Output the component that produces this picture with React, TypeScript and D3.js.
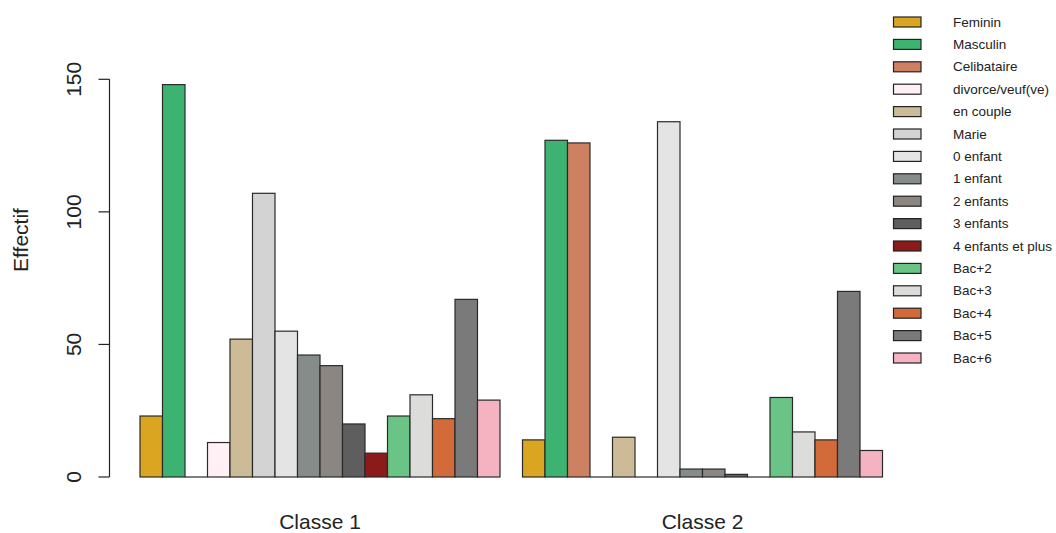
import React from "react";
import * as d3 from "d3";

const classes = ["Classe 1", "Classe 2"];
const categories = [
  "Feminin", "Masculin", "Celibataire", "divorce/veuf(ve)", "en couple", "Marie",
  "0 enfant", "1 enfant", "2 enfants", "3 enfants", "4 enfants et plus",
  "Bac+2", "Bac+3", "Bac+4", "Bac+5", "Bac+6",
];
const classe1 = [23, 148, 0, 13, 52, 107, 55, 46, 42, 20, 9, 23, 31, 22, 67, 29];
const classe2 = [14, 127, 126, 0, 15, 0, 134, 3, 3, 1, 0, 30, 17, 14, 70, 10];
const colors = [
  "#DAA520", "#3CB371", "#CD8162", "#FFF0F5", "#CDBA96", "#D3D3D3",
  "#E3E4E3", "#858C89", "#8B8682", "#5E5E5E", "#8B1A1A",
  "#6AC485", "#DCDCDA", "#D36A3A", "#7A7A7A", "#F5B3C1",
];
const yTicks = [0, 50, 100, 150];

const W = 1056;
const H = 533;
const FONT = "Arial, 'Liberation Sans', sans-serif";

export default function App() {
  const series = [classe1, classe2];
  const nCat = categories.length;
  const totalUnits = classes.length * (nCat + 1);
  const x = d3.scaleLinear().domain([0, totalUnits]).range([117.5, 882.5]);
  const y = d3.scaleLinear().domain([0, 150]).range([477, 79.3]);

  const bars: any[] = [];
  series.forEach((vals, g) => {
    vals.forEach((v, i) => {
      const u = g * (nCat + 1) + 1 + i;
      bars.push({ key: `${g}-${i}`, x0: x(u), x1: x(u + 1), v, color: colors[i] });
    });
  });

  const legendY = d3.scaleLinear().domain([0, nCat - 1]).range([22, 358]);

  return (
    <svg width={W} height={H} style={{ position: "absolute", left: 0, top: 0, background: "#fff" }}>
      <rect x={0} y={0} width={W} height={H} fill="#fff" />
      {bars.map((b) =>
        b.v > 0 ? (
          <rect
            key={b.key}
            x={b.x0}
            y={y(b.v)}
            width={b.x1 - b.x0}
            height={y(0) - y(b.v)}
            fill={b.color}
            stroke="#2a2a2a"
            strokeWidth={1.2}
          />
        ) : (
          <line key={b.key} x1={b.x0} x2={b.x1} y1={y(0)} y2={y(0)} stroke="#2a2a2a" strokeWidth={1.2} />
        )
      )}
      <line x1={109.5} x2={109.5} y1={y(0)} y2={y(150)} stroke="#222" strokeWidth={1.2} />
      {yTicks.map((t) => (
        <g key={t}>
          <line x1={98.5} x2={109.5} y1={y(t)} y2={y(t)} stroke="#222" strokeWidth={1.2} />
          <text
            transform={`translate(81,${y(t)}) rotate(-90)`}
            textAnchor="middle"
            fontFamily={FONT}
            fontSize={21}
            fill="#222"
          >
            {t}
          </text>
        </g>
      ))}
      <text
        transform={`translate(28,240) rotate(-90)`}
        textAnchor="middle"
        fontFamily={FONT}
        fontSize={21}
        fill="#222"
      >
        Effectif
      </text>
      {classes.map((c, g) => {
        const cx = x(g * (nCat + 1) + 1 + nCat / 2);
        return (
          <text key={c} x={cx} y={529} textAnchor="middle" fontFamily={FONT} fontSize={21} fill="#222">
            {c}
          </text>
        );
      })}
      {categories.map((c, i) => (
        <g key={c}>
          <rect x={893.5} y={legendY(i) - 5} width={27.5} height={10} fill={colors[i]} stroke="#222" strokeWidth={1.2} />
          <text x={953} y={legendY(i) + 4.5} fontFamily={FONT} fontSize={13.5} fill="#222">
            {c}
          </text>
        </g>
      ))}
    </svg>
  );
}
